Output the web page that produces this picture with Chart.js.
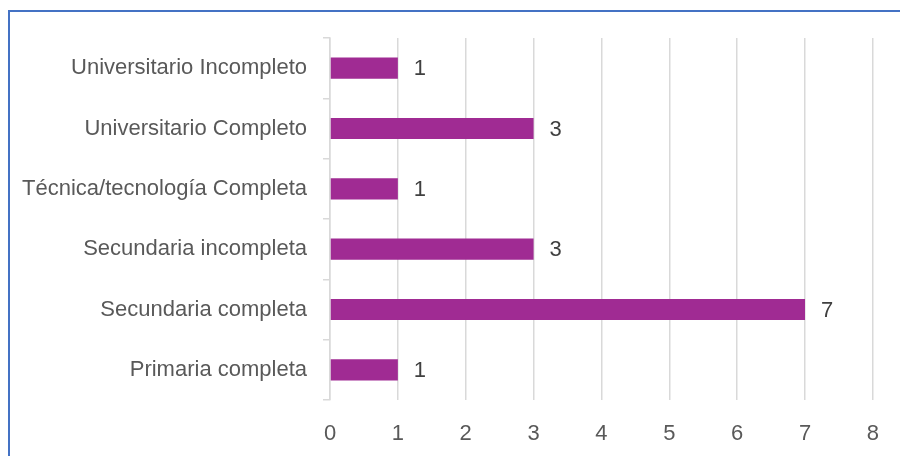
<!DOCTYPE html>
<html>
<head>
<meta charset="utf-8">
<script src="https://cdn.jsdelivr.net/npm/chart.js@4"></script>
<style>
  html, body { margin: 0; padding: 0; background: #fff; }
  #wrap { position: relative; width: 900px; height: 456px; overflow: hidden; }
  #frame { position: absolute; left: 8px; top: 10px; width: 900px; height: 460px;
           border-left: 2px solid #4472C4; border-top: 2px solid #4472C4; }
  canvas { position: absolute; left: 0; top: 0; }
</style>
</head>
<body>
<div id="wrap">
  <div id="frame"></div>
  <canvas id="myChart" width="900" height="456"></canvas>
</div>
<script>
// categorias de arriba hacia abajo
var categorias = [
    'Universitario Incompleto',
    'Universitario Completo',
    'Técnica/tecnología Completa',
    'Secundaria incompleta',
    'Secundaria completa',
    'Primaria completa'
];
var valores = [1, 3, 1, 3, 7, 1];
var ejeX = [0, 1, 2, 3, 4, 5, 6, 7, 8];

var fuente = "'Liberation Sans', Arial, sans-serif";

// etiquetas de valor al lado de cada barra
var etiquetasPlugin = {
    id: 'etiquetas',
    afterDatasetsDraw: function(chart) {
        var ctx = chart.ctx;
        var meta = chart.getDatasetMeta(0);
        ctx.save();
        ctx.font = '22px ' + fuente;
        ctx.fillStyle = '#404040';
        ctx.textAlign = 'left';
        ctx.textBaseline = 'middle';
        meta.data.forEach(function(bar, i) {
            ctx.fillText(String(valores[i]), bar.x + 16, bar.y + 1);
        });
        ctx.restore();
    }
};

document.addEventListener('DOMContentLoaded', function() {
    var ctx = document.getElementById('myChart').getContext('2d');

    new Chart(ctx, {
        type: 'bar',
        data: {
            labels: categorias,
            datasets: [{
                data: valores,
                backgroundColor: '#A02B93',
                categoryPercentage: 1,
                barPercentage: 0.35
            }]
        },
        options: {
            indexAxis: 'y',
            responsive: false,
            animation: false,
            layout: { padding: { left: 0, right: 20, top: 38, bottom: 0 } },
            plugins: {
                legend: { display: false },
                tooltip: { enabled: false }
            },
            scales: {
                x: {
                    min: 0,
                    max: 8,
                    afterBuildTicks: function(scale) {
                        scale.ticks = ejeX.map(function(v) { return { value: v }; });
                    },
                    afterFit: function(scale) { scale.height = 56; },
                    border: { display: false },
                    grid: { color: '#D9D9D9', lineWidth: 1.5, drawTicks: false },
                    ticks: {
                        padding: 21,
                        color: '#595959',
                        font: { family: fuente, size: 22 }
                    }
                },
                y: {
                    afterFit: function(scale) { scale.width = 330; },
                    border: { display: true, color: '#D9D9D9', width: 1.5 },
                    grid: {
                        offset: true,
                        drawOnChartArea: false,
                        color: '#D9D9D9',
                        lineWidth: 1.5,
                        tickLength: 7
                    },
                    ticks: {
                        padding: 16,
                        color: '#595959',
                        font: { family: fuente, size: 22 }
                    }
                }
            }
        },
        plugins: [etiquetasPlugin]
    });
});
</script>
</body>
</html>
